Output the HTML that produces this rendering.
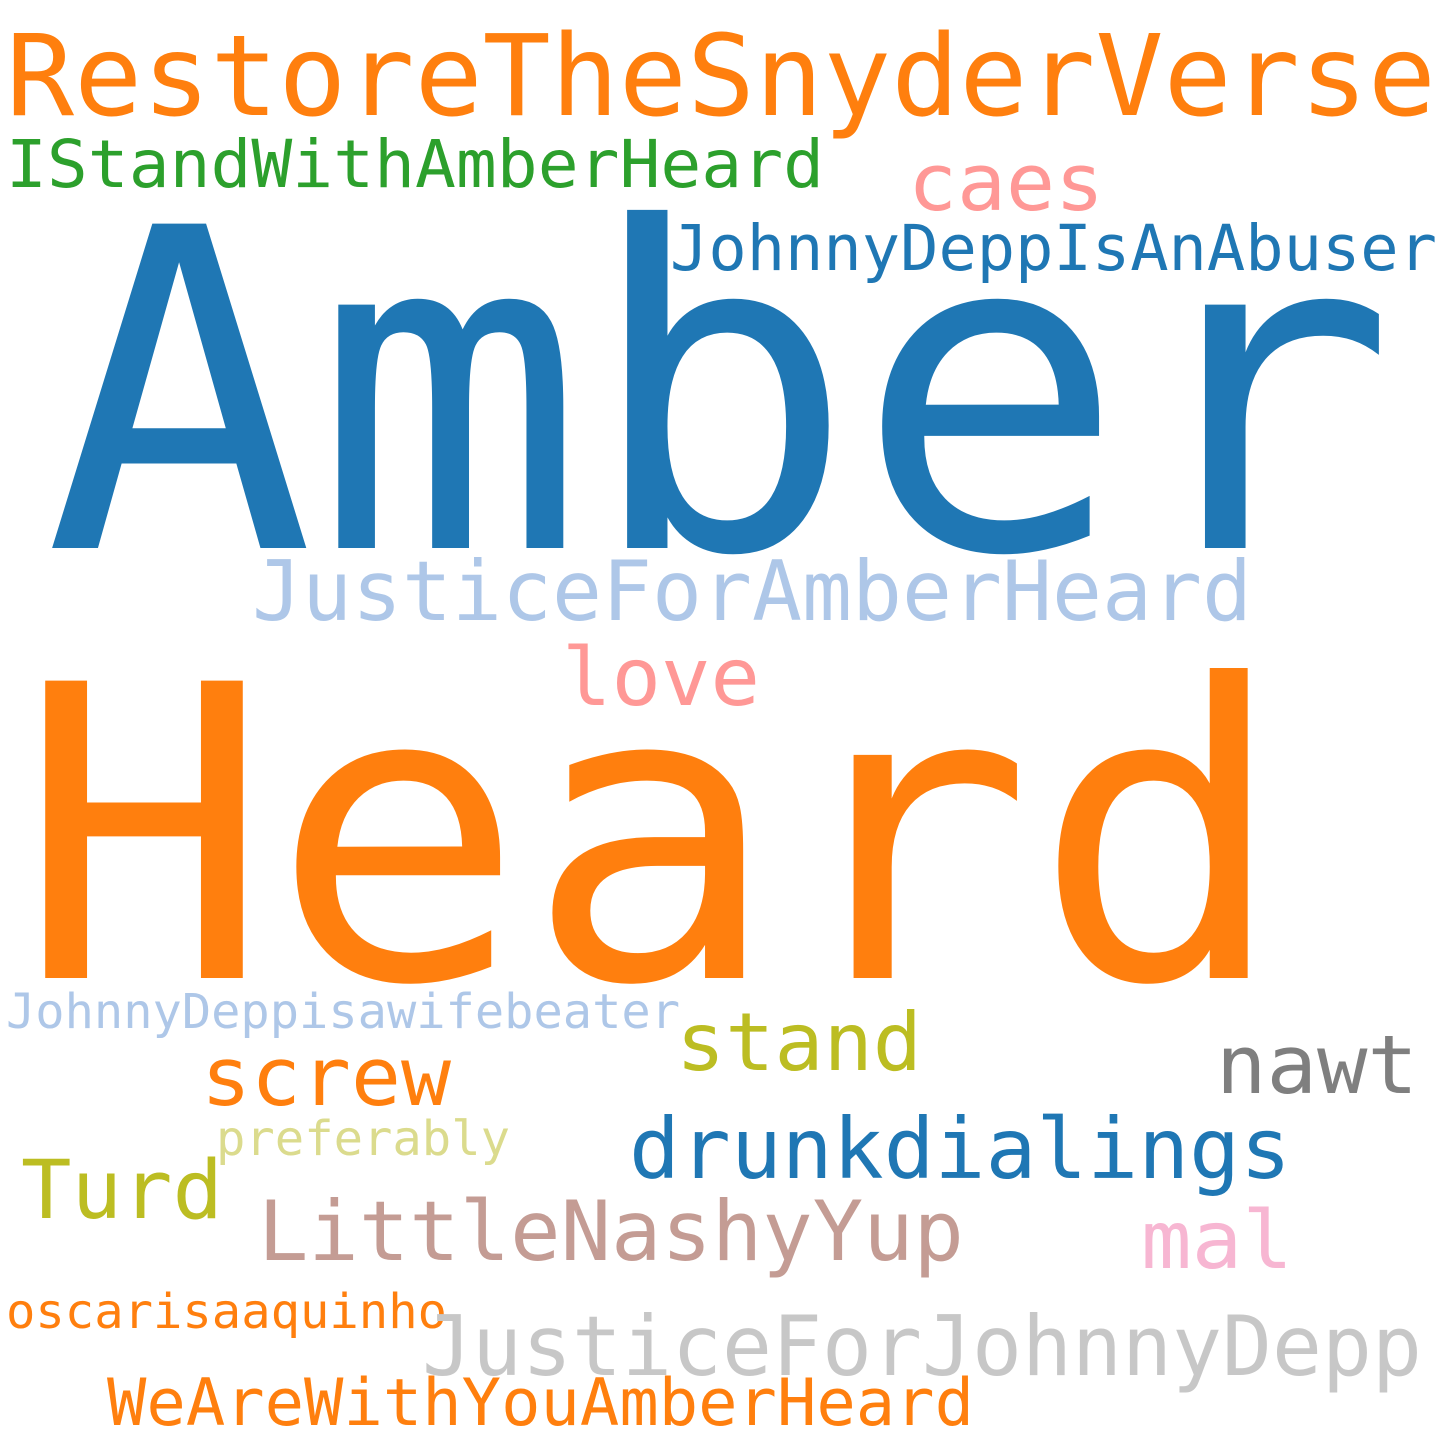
<!DOCTYPE html>
<html><head><meta charset="utf-8"><style>
html,body{margin:0;padding:0;background:#fff;}
svg{display:block;}
text{font-family:"DejaVu Sans Mono","Liberation Mono",monospace;}
</style></head><body>
<svg width="1440" height="1440" viewBox="0 0 1440 1440">
<rect width="1440" height="1440" fill="#fff"/>
<text x="6" y="115" font-size="112" fill="#ff7f0e" textLength="1430" lengthAdjust="spacingAndGlyphs">RestoreTheSnyderVerse</text>
<text x="6" y="187" font-size="66" fill="#2ca02c" textLength="818" lengthAdjust="spacingAndGlyphs">IStandWithAmberHeard</text>
<text x="908" y="210" font-size="79" fill="#ff9896" textLength="196" lengthAdjust="spacingAndGlyphs">caes</text>
<text x="670" y="270" font-size="63" fill="#1f77b4" textLength="767" lengthAdjust="spacingAndGlyphs">JohnnyDeppIsAnAbuser</text>
<text x="44" y="548" font-size="445" fill="#1f77b4" textLength="1352" lengthAdjust="spacingAndGlyphs">Amber</text>
<text x="252" y="620" font-size="83" fill="#aec7e8" textLength="1000" lengthAdjust="spacingAndGlyphs">JusticeForAmberHeard</text>
<text x="562" y="705" font-size="80" fill="#ff9896" textLength="198" lengthAdjust="spacingAndGlyphs">love</text>
<text x="17" y="978" font-size="408" fill="#ff7f0e" textLength="1270" lengthAdjust="spacingAndGlyphs">Heard</text>
<text x="6" y="1028" font-size="48" fill="#aec7e8" textLength="674" lengthAdjust="spacingAndGlyphs">JohnnyDeppisawifebeater</text>
<text x="676" y="1070" font-size="80" fill="#bcbd22" textLength="246" lengthAdjust="spacingAndGlyphs">stand</text>
<text x="1216" y="1093" font-size="81" fill="#7f7f7f" textLength="202" lengthAdjust="spacingAndGlyphs">nawt</text>
<text x="201" y="1105" font-size="81" fill="#ff7f0e" textLength="250" lengthAdjust="spacingAndGlyphs">screw</text>
<text x="216" y="1155" font-size="48" fill="#dbdb8d" textLength="294" lengthAdjust="spacingAndGlyphs">preferably</text>
<text x="629" y="1178" font-size="84" fill="#1f77b4" textLength="662" lengthAdjust="spacingAndGlyphs">drunkdialings</text>
<text x="21" y="1218" font-size="81" fill="#bcbd22" textLength="202" lengthAdjust="spacingAndGlyphs">Turd</text>
<text x="258" y="1260" font-size="83" fill="#c49c94" textLength="706" lengthAdjust="spacingAndGlyphs">LittleNashyYup</text>
<text x="1141" y="1268" font-size="80" fill="#f7b6d2" textLength="152" lengthAdjust="spacingAndGlyphs">mal</text>
<text x="6" y="1328" font-size="48" fill="#ff7f0e" textLength="441" lengthAdjust="spacingAndGlyphs">oscarisaaquinho</text>
<text x="422" y="1375" font-size="83" fill="#c7c7c7" textLength="1000" lengthAdjust="spacingAndGlyphs">JusticeForJohnnyDepp</text>
<text x="107" y="1425" font-size="65" fill="#ff7f0e" textLength="867" lengthAdjust="spacingAndGlyphs">WeAreWithYouAmberHeard</text>
</svg>
</body></html>
